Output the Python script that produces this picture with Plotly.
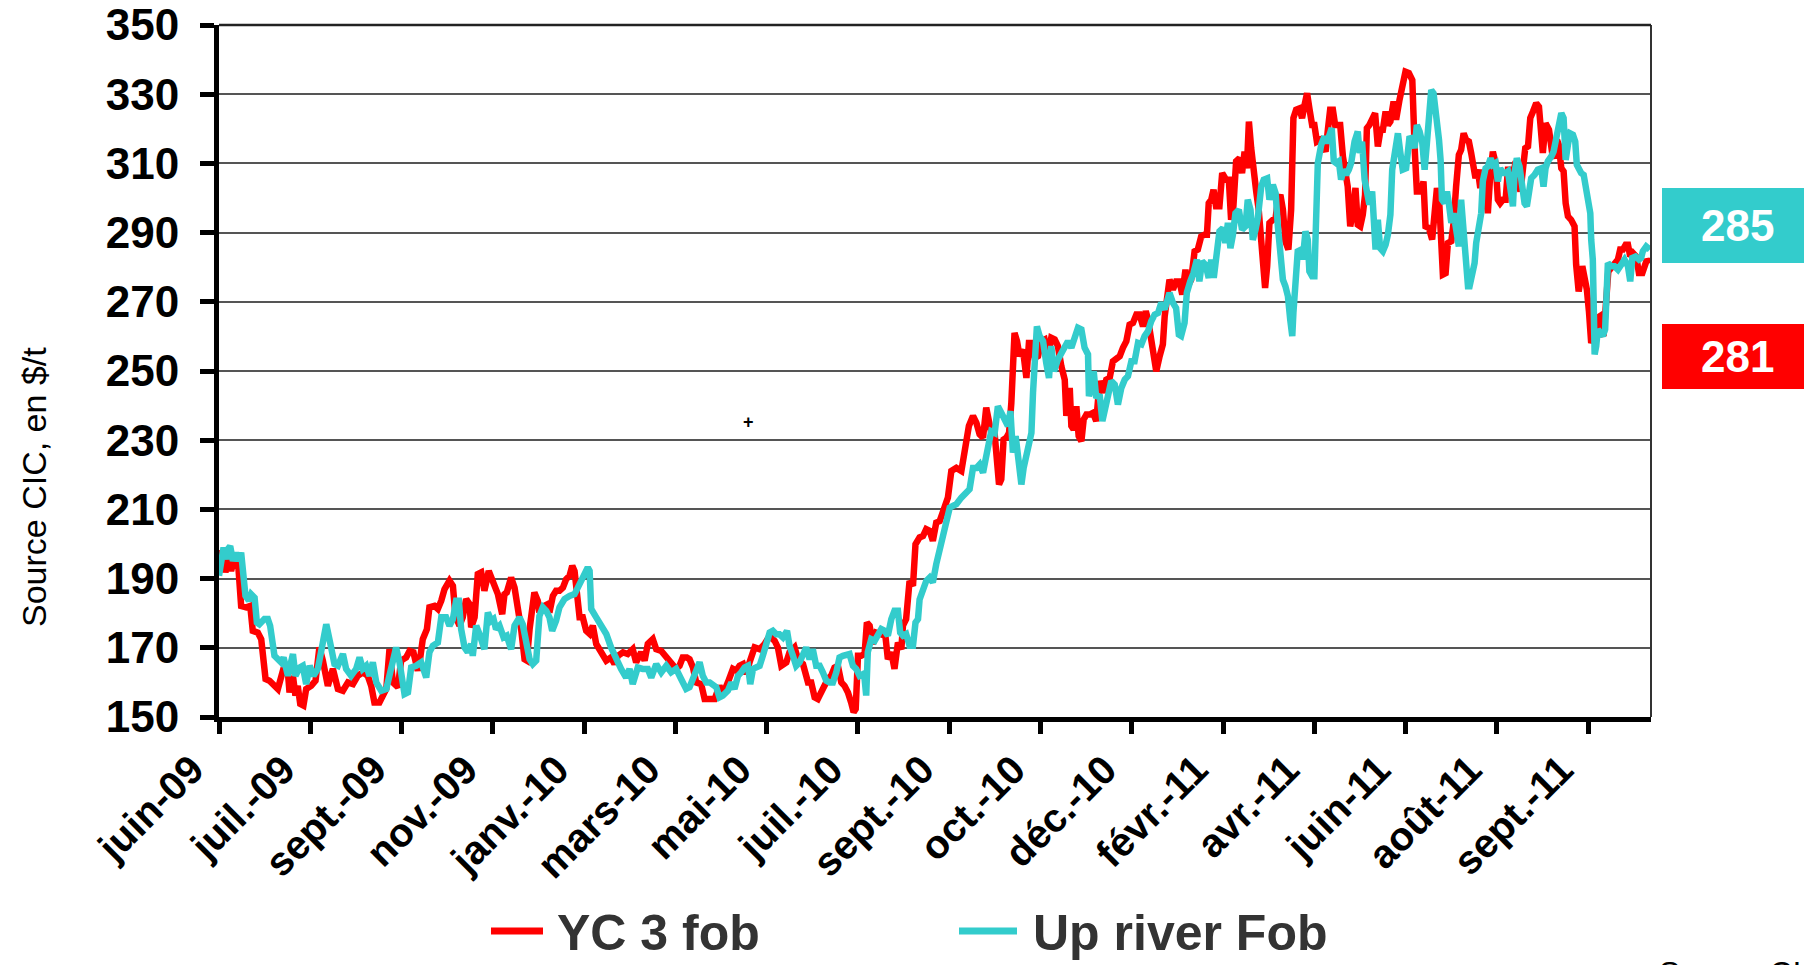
import plotly.graph_objects as go

# ---------------- data ----------------
tick_labels = ["juin-09", "juil.-09", "sept.-09", "nov.-09", "janv.-10", "mars-10",
               "mai-10", "juil.-10", "sept.-10", "oct.-10", "déc.-10", "févr.-11",
               "avr.-11", "juin-11", "août-11", "sept.-11"]
tick_step = 40          # observations between two labelled ticks
last_index = 627.5      # last observation position (category axis)

series_names = ["YC 3 fob", "Up river Fob"]
series_colors = ["#FF0000", "#33CCCC"]
last_values = [281, 285]

# YC 3 fob  (observation index, $/t)
yc_x = [0, 1.4, 2.8, 4.3, 5.3, 6.8, 8.3, 9.7, 11.9, 13.7, 14.8, 17.0, 18.5, 20.4, 22.1, 23.6, 25.8, 28.0, 30.2, 30.9,
        32.4, 33.5, 34.5, 35.6, 37.0, 38.2, 40.4, 42.3, 44.0, 45.5, 47.7, 49.9, 52.1, 54.3, 56.5, 58.7, 60.8, 63.0, 65.2, 66.7,
        68.1, 70.3, 71.8, 73.3, 74.7, 76.2, 78.4, 79.8, 82.0, 83.5, 85.2, 87.1, 87.9, 89.3, 91.1, 92.2, 94.4, 95.9, 97.4, 98.8,
        101.0, 102.5, 103.6, 105.4, 106.8, 108.3, 109.8, 110.5, 112.0, 113.4, 114.9, 116.3, 118.2, 120.0, 122.2, 124.1, 125.1, 126.1, 128.0, 129.5,
        130.9, 132.4, 133.9, 134.9, 136.1, 138.2, 139.7, 140.4, 142.6, 144.1, 144.8, 146.3, 147.7, 149.2, 150.7, 152.1, 153.6, 154.8, 155.8, 156.5,
        158.0, 159.4, 160.9, 162.4, 163.8, 165.3, 167.5, 169.7, 171.8, 173.3, 174.8, 177.0, 179.1, 181.3, 182.8, 185.0, 186.5, 187.9, 190.1, 191.6,
        193.8, 196.0, 198.1, 200.3, 201.8, 203.2, 205.0, 206.2, 207.7, 209.1, 211.3, 212.8, 215.0, 217.2, 219.3, 220.8, 223.0, 225.2, 226.7, 228.1,
        229.6, 231.0, 232.5, 234.7, 236.9, 239.1, 241.3, 243.5, 244.9, 246.4, 248.6, 250.0, 252.2, 253.7, 255.9, 258.1, 259.5, 261.0, 262.4, 263.9,
        265.4, 266.8, 268.3, 269.7, 271.2, 272.7, 274.1, 275.6, 277.0, 278.1, 279.0, 280.0, 281.4, 282.9, 283.9, 285.1, 286.5, 288.0, 290.2, 291.7,
        293.1, 294.6, 296.0, 297.5, 299.0, 299.7, 301.1, 302.6, 304.1, 305.2, 307.0, 308.5, 309.9, 311.4, 312.8, 314.3, 315.8, 318.0, 319.4, 320.9,
        323.1, 325.3, 327.5, 328.6, 330.4, 331.9, 333.3, 334.8, 336.2, 337.4, 338.4, 339.9, 340.6, 341.8, 342.8, 343.8, 345.0, 346.2, 347.2, 348.6,
        349.7, 350.8, 352.3, 353.8, 354.9, 356.0, 357.4, 358.9, 360.3, 361.8, 363.3, 364.7, 366.2, 367.6, 369.1, 370.6, 371.3, 372.8, 373.5, 374.5,
        375.7, 376.7, 377.9, 378.9, 380.1, 381.5, 383.0, 384.4, 385.9, 387.4, 388.8, 390.3, 391.7, 393.2, 394.7, 396.1, 397.6, 399.0, 400.5, 402.0,
        403.4, 404.9, 406.1, 407.1, 408.1, 409.3, 410.7, 412.2, 413.6, 414.4, 415.4, 416.5, 418.0, 419.4, 420.9, 422.1, 423.5, 424.5, 426.0, 427.5,
        428.9, 430.4, 431.8, 432.9, 433.7, 434.8, 435.8, 436.9, 438.4, 439.6, 441.3, 442.5, 443.5, 444.5, 445.7, 447.2, 448.3, 449.4, 450.4, 451.3,
        452.3, 453.3, 454.5, 455.6, 456.7, 457.4, 458.4, 459.3, 460.3, 461.8, 463.0, 464.0, 465.1, 466.2, 467.3, 468.6, 469.8, 470.8, 472.0, 473.5,
        474.6, 475.7, 476.8, 477.9, 479.0, 480.0, 481.1, 482.5, 483.7, 484.9, 485.9, 486.9, 488.1, 489.1, 490.3, 491.3, 492.5, 493.6, 494.6, 495.7,
        496.8, 498.0, 499.0, 500.1, 501.2, 502.2, 503.0, 504.1, 505.6, 506.6, 507.8, 509.0, 510.0, 511.2, 512.2, 513.3, 514.7, 515.8, 517.3, 518.7,
        519.9, 521.4, 522.9, 523.9, 524.9, 526.8, 527.8, 528.7, 530.2, 531.6, 532.7, 533.7, 534.8, 536.3, 537.5, 538.5, 540.0, 541.0, 542.1, 543.3,
        544.3, 545.4, 546.5, 547.7, 548.7, 549.7, 550.6, 551.6, 552.7, 553.8, 555.0, 556.0, 557.1, 558.2, 559.4, 560.4, 561.4, 562.6, 563.8, 564.8,
        565.8, 567.0, 568.2, 569.2, 570.3, 571.4, 572.4, 573.6, 574.6, 575.8, 577.2, 578.4, 579.4, 580.1, 581.3, 582.8, 584.2, 585.2, 586.3, 587.1,
        588.2, 589.2, 590.1, 591.1, 592.5, 594.0, 594.7, 595.8, 596.6, 597.4, 598.4, 599.4, 600.3, 601.3, 602.0, 602.9, 603.8, 605.0, 605.8, 606.7,
        607.9, 609.0, 610.1, 611.5, 613.0, 614.0, 615.2, 616.4, 617.4, 618.4, 619.6, 621.0, 622.2, 623.7, 624.7, 625.7, 627.0]
yc_y = [194.6, 198.0, 191.8, 196.1, 192.2, 196.1, 195.1, 182.1, 181.7, 182.1, 174.9, 174.4, 172.5, 161.0, 160.5, 159.5, 158.1, 163.4, 162.9, 157.1,
        161.9, 156.2, 159.0, 153.8, 153.3, 158.1, 159.0, 160.5, 170.1, 166.3, 159.0, 163.9, 158.1, 157.6, 160.0, 159.5, 161.9, 162.9, 161.9, 159.0,
        154.2, 154.2, 156.2, 158.1, 169.6, 160.0, 158.6, 166.3, 167.2, 169.1, 168.7, 163.4, 165.8, 172.5, 175.4, 181.7, 182.1, 181.2, 183.6, 186.9,
        189.4, 187.9, 179.2, 176.4, 178.8, 184.1, 182.6, 175.9, 178.8, 191.3, 191.8, 186.5, 192.2, 189.4, 185.5, 179.7, 185.5, 186.0, 190.3, 187.4,
        182.6, 175.4, 166.7, 166.3, 175.4, 186.0, 183.6, 180.2, 182.1, 182.6, 180.2, 185.0, 186.5, 186.5, 187.4, 189.8, 190.8, 193.7, 192.2, 186.9,
        178.8, 178.8, 174.9, 174.0, 176.4, 171.1, 168.7, 166.3, 167.2, 165.3, 167.7, 168.7, 168.2, 169.6, 165.8, 168.7, 166.3, 171.1, 172.5, 169.6,
        169.1, 167.2, 165.3, 163.9, 164.8, 167.2, 167.2, 166.7, 164.3, 160.0, 159.5, 155.2, 155.2, 155.2, 159.0, 156.6, 160.0, 163.9, 163.4, 164.8,
        165.3, 162.4, 165.8, 170.1, 169.6, 171.1, 173.5, 172.0, 170.1, 164.8, 165.8, 168.7, 170.1, 166.7, 165.3, 160.0, 160.0, 155.7, 155.2, 157.1,
        160.0, 161.0, 162.0, 164.3, 164.8, 160.0, 159.0, 157.1, 154.2, 151.4, 152.3, 167.7, 167.7, 168.2, 177.3, 176.4, 171.1, 174.4, 173.9, 175.4,
        166.7, 168.7, 163.9, 171.5, 169.6, 176.4, 178.3, 189.3, 187.9, 199.9, 201.9, 202.3, 204.3, 203.8, 200.9, 206.2, 206.6, 210.5, 213.4, 221.1,
        222.0, 221.1, 229.3, 234.1, 237.0, 235.0, 231.7, 230.7, 239.4, 234.1, 232.1, 231.7, 225.4, 217.2, 218.7, 230.2, 230.7, 232.1, 240.8, 261.0,
        258.6, 254.3, 256.2, 248.0, 258.1, 258.1, 253.8, 254.3, 258.6, 259.1, 254.3, 259.6, 259.1, 257.2, 251.4, 247.5, 237.0, 245.1, 234.1, 233.1,
        239.8, 231.2, 229.7, 236.0, 237.4, 237.4, 237.9, 235.5, 247.1, 243.7, 247.5, 248.0, 252.8, 253.3, 254.3, 256.7, 258.6, 263.4, 263.9, 266.3,
        266.3, 262.9, 267.3, 264.9, 260.1, 254.3, 249.9, 254.3, 257.7, 265.8, 273.0, 276.4, 273.5, 275.9, 275.9, 272.1, 279.3, 274.5, 276.4, 284.6,
        285.1, 288.9, 289.4, 289.4, 298.5, 299.5, 302.4, 297.6, 297.6, 307.2, 305.3, 305.3, 293.7, 297.6, 310.6, 311.5, 307.2, 313.4, 308.6, 322.1,
        314.4, 307.2, 301.9, 296.6, 286.0, 276.9, 274.0, 280.3, 292.8, 293.7, 294.2, 299.5, 300.9, 296.6, 287.5, 285.1, 296.6, 323.1, 325.5, 325.9,
        323.1, 326.9, 330.3, 325.5, 321.1, 321.1, 316.3, 316.8, 314.4, 313.4, 319.7, 325.5, 325.5, 321.1, 321.1, 321.1, 312.0, 307.2, 303.3, 291.8,
        295.6, 302.9, 292.3, 291.8, 295.2, 300.9, 320.2, 321.1, 323.5, 324.5, 314.9, 319.7, 319.7, 325.0, 321.1, 322.1, 327.9, 322.6, 328.4, 334.1,
        336.5, 336.1, 334.1, 314.9, 301.9, 301.9, 304.8, 291.8, 291.3, 288.0, 295.6, 302.9, 297.6, 277.9, 278.3, 287.0, 287.5, 292.8, 303.3, 312.5,
        313.9, 318.7, 316.8, 316.3, 313.0, 310.1, 305.7, 308.2, 302.9, 308.2, 299.5, 295.6, 307.2, 313.4, 310.1, 299.5, 298.5, 299.5, 299.5, 308.2,
        308.2, 306.2, 310.6, 304.3, 301.9, 308.6, 314.4, 314.9, 323.1, 325.0, 327.4, 326.4, 319.2, 313.0, 321.6, 319.7, 313.0, 311.5, 316.8, 315.4,
        308.6, 307.7, 298.5, 294.7, 293.7, 291.8, 280.7, 273.0, 276.4, 280.3, 276.9, 273.5, 267.3, 258.1, 259.1, 259.1, 265.3, 265.8, 261.0, 260.1,
        270.6, 280.7, 279.8, 281.2, 282.2, 285.1, 285.1, 286.5, 286.5, 283.1, 284.1, 283.1, 278.3, 278.3, 280.3, 282.2, 281.2]

# Up river Fob  (observation index, $/t)
up_x = [0, 0.95, 2.0, 3.1, 3.9, 4.9, 6.1, 7.5, 8.7, 9.7, 10.4, 11.6, 13.1, 14.1, 15.6, 16.6, 17.7, 19.9, 21.4, 22.4,
        24.3, 25.8, 27.2, 28.3, 30.2, 32.4, 33.5, 35.3, 36.7, 38.2, 39.7, 41.4, 43.3, 45.5, 47.0, 48.7, 50.6, 52.1, 54.3, 55.7,
        57.9, 60.1, 61.6, 63.0, 64.5, 66.0, 67.4, 68.9, 71.1, 73.3, 75.4, 77.6, 79.1, 81.3, 82.8, 84.2, 86.4, 88.6, 90.8, 92.2,
        93.7, 95.9, 97.4, 99.5, 101.0, 102.5, 103.9, 105.1, 106.1, 107.6, 109.0, 110.5, 111.2, 112.7, 114.4, 116.3, 117.8, 119.3, 120.3, 121.4,
        122.9, 124.7, 126.1, 128.0, 129.5, 131.7, 133.1, 134.6, 136.1, 137.5, 139.0, 140.4, 141.9, 143.4, 144.8, 146.0, 147.7, 149.2, 151.4, 153.6,
        155.8, 158.0, 160.2, 161.6, 162.4, 163.1, 165.3, 167.5, 169.7, 171.8, 174.0, 176.2, 178.4, 179.9, 181.3, 183.5, 185.7, 187.9, 189.4, 191.6,
        193.8, 196.0, 198.1, 200.3, 202.5, 204.7, 206.2, 207.7, 209.1, 210.6, 212.0, 213.5, 215.0, 216.4, 217.9, 219.3, 220.8, 223.0, 224.5, 225.9,
        227.4, 228.8, 230.3, 231.8, 232.8, 234.0, 235.4, 236.9, 238.3, 240.1, 241.3, 242.7, 244.2, 245.6, 247.1, 248.9, 250.0, 251.5, 252.9, 254.4,
        255.9, 257.3, 258.8, 260.2, 261.7, 263.2, 264.6, 266.1, 267.6, 269.0, 270.5, 271.9, 273.4, 274.9, 276.3, 277.8, 279.2, 280.7, 282.2, 282.9,
        283.6, 284.3, 285.8, 287.3, 288.7, 290.2, 291.7, 293.1, 294.6, 296.0, 297.5, 298.5, 299.7, 301.1, 302.6, 304.1, 305.2, 306.3, 307.0, 308.5,
        309.9, 311.4, 312.8, 314.3, 315.8, 320.2, 321.6, 323.1, 325.3, 327.5, 328.9, 330.4, 331.9, 333.3, 334.8, 335.9, 337.4, 338.4, 339.9, 341.3,
        342.8, 344.3, 345.7, 346.8, 347.9, 349.1, 350.1, 351.6, 352.6, 353.8, 354.9, 356.0, 356.7, 357.4, 358.4, 359.6, 361.1, 362.5, 363.7, 364.7,
        365.9, 367.6, 369.1, 370.6, 372.0, 373.5, 374.9, 376.4, 377.9, 379.3, 380.8, 381.2, 382.2, 383.3, 384.4, 385.9, 387.1, 388.1, 389.5, 391.0,
        392.5, 393.9, 395.4, 396.9, 398.3, 399.8, 401.2, 402.7, 404.2, 405.6, 407.1, 408.5, 410.0, 411.5, 412.9, 414.4, 415.8, 416.5, 418.0, 419.4,
        420.6, 421.6, 423.1, 424.1, 425.6, 427.0, 428.5, 429.6, 430.8, 432.3, 433.7, 434.8, 435.9, 437.2, 438.4, 439.9, 441.0, 442.1, 443.2, 444.3,
        445.4, 446.9, 448.3, 449.8, 450.8, 452.0, 453.0, 454.2, 455.2, 456.7, 457.8, 459.3, 460.3, 461.8, 463.0, 464.0, 465.1, 466.2, 467.3, 468.4,
        469.4, 470.3, 470.8, 471.7, 472.7, 474.2, 474.9, 476.1, 477.1, 477.8, 479.0, 480.0, 480.8, 481.5, 483.0, 484.4, 485.4, 486.6, 487.6, 488.5,
        489.5, 490.7, 491.7, 492.7, 493.9, 495.1, 496.1, 497.6, 499.0, 499.8, 500.9, 502.0, 503.0, 504.1, 505.3, 505.9, 506.8, 507.8, 508.8, 510.0,
        511.2, 512.2, 513.3, 514.1, 515.1, 516.6, 517.6, 518.7, 520.2, 521.7, 522.9, 523.9, 524.9, 526.1, 527.3, 528.3, 529.3, 530.2, 531.2, 532.2,
        533.4, 534.6, 535.3, 535.9, 537.0, 538.1, 538.9, 540.0, 541.0, 542.1, 543.3, 544.3, 545.4, 546.2, 547.3, 548.0, 549.2, 550.2, 550.9, 552.1,
        553.1, 553.8, 555.0, 556.0, 557.2, 558.2, 559.4, 560.4, 561.4, 562.6, 563.8, 564.8, 565.8, 567.0, 567.7, 568.7, 569.9, 571.1, 572.1, 573.1,
        574.3, 575.0, 576.5, 577.9, 579.4, 580.4, 581.3, 582.3, 583.8, 584.8, 586.0, 587.2, 588.2, 589.2, 590.1, 591.1, 592.1, 593.3, 594.3, 595.0,
        595.9, 596.9, 598.0, 599.1, 600.3, 600.9, 601.3, 602.0, 602.3, 602.8, 603.5, 604.2, 605.3, 606.4, 607.4, 608.2, 608.6, 610.1, 611.5, 613.0,
        614.5, 615.9, 617.4, 618.4, 619.3, 620.7, 622.2, 623.2, 623.9, 625.4, 627.0]
up_y = [190.8, 193.7, 199.0, 195.6, 198.5, 199.4, 195.1, 197.5, 195.1, 197.5, 193.7, 185.0, 183.6, 185.5, 184.5, 177.3, 176.8, 178.3, 178.3, 176.4,
        167.7, 166.3, 165.8, 167.2, 161.9, 168.2, 161.9, 164.3, 164.8, 159.5, 164.8, 161.9, 163.9, 171.5, 176.8, 171.5, 165.3, 164.8, 168.2, 163.9,
        161.9, 163.9, 167.2, 163.9, 164.8, 161.9, 165.8, 160.0, 157.6, 158.1, 163.9, 170.1, 165.8, 156.6, 157.1, 164.3, 164.8, 165.8, 161.4, 168.7,
        170.6, 171.5, 178.8, 178.8, 176.4, 178.3, 183.6, 183.6, 175.4, 170.1, 168.7, 171.1, 167.7, 176.4, 173.5, 169.6, 180.2, 177.8, 178.3, 175.4,
        176.4, 173.0, 173.5, 169.6, 176.4, 178.8, 176.8, 171.5, 166.7, 165.3, 166.3, 179.2, 181.7, 180.7, 178.8, 174.9, 177.8, 181.7, 184.1, 185.0,
        185.5, 188.4, 190.8, 193.2, 192.2, 181.2, 178.8, 175.9, 174.0, 170.1, 166.7, 163.9, 161.4, 163.9, 159.5, 164.3, 163.9, 163.9, 161.4, 165.3,
        162.9, 164.8, 162.9, 163.9, 161.0, 158.1, 158.6, 161.0, 163.9, 165.8, 161.9, 160.0, 160.0, 159.0, 158.6, 155.7, 156.2, 157.6, 160.0, 158.1,
        161.9, 162.9, 164.3, 164.8, 159.5, 163.9, 164.3, 164.8, 167.7, 172.5, 174.4, 174.9, 173.9, 173.9, 173.0, 174.9, 170.6, 167.7, 164.8, 165.8,
        168.7, 170.1, 166.7, 169.6, 164.8, 164.8, 162.9, 160.5, 160.0, 160.0, 162.9, 167.2, 167.7, 168.2, 168.2, 164.8, 163.9, 161.9, 162.4, 161.0,
        156.2, 168.7, 172.5, 172.0, 173.5, 175.4, 174.9, 173.5, 178.3, 180.7, 180.7, 174.4, 173.5, 174.0, 170.6, 170.6, 177.3, 178.3, 184.0, 186.5,
        189.3, 190.3, 188.9, 194.2, 198.5, 210.5, 211.0, 211.5, 213.4, 214.8, 215.8, 222.0, 222.0, 223.0, 220.6, 224.4, 228.8, 232.6, 232.1, 239.8,
        237.9, 235.9, 234.1, 238.4, 226.4, 231.2, 224.4, 217.2, 222.0, 225.4, 228.8, 232.1, 243.7, 254.3, 262.9, 260.1, 258.6, 252.3, 248.0, 257.2,
        249.9, 253.3, 255.2, 257.7, 258.6, 256.7, 260.1, 262.5, 262.0, 256.7, 254.8, 242.7, 245.1, 249.9, 242.2, 243.2, 235.5, 237.9, 242.7, 247.1,
        246.1, 240.3, 245.1, 247.5, 248.5, 252.8, 252.8, 258.1, 257.7, 260.1, 261.5, 264.4, 266.3, 266.8, 269.7, 267.8, 271.1, 272.6, 269.7, 268.2,
        260.5, 260.1, 263.9, 272.6, 275.9, 278.3, 282.2, 275.9, 281.7, 280.7, 276.9, 282.2, 276.9, 282.7, 290.4, 291.3, 287.0, 292.8, 285.5, 289.4,
        295.6, 296.6, 290.8, 291.8, 299.5, 296.6, 287.9, 290.8, 294.2, 303.3, 305.3, 305.7, 299.5, 303.8, 301.4, 291.8, 285.1, 276.4, 274.5, 271.6,
        264.9, 260.1, 266.8, 279.3, 284.6, 285.1, 282.2, 290.4, 287.9, 278.8, 277.4, 277.4, 299.5, 310.1, 315.4, 317.8, 315.8, 319.2, 320.2, 310.6,
        310.1, 310.6, 305.3, 308.2, 306.7, 308.2, 310.1, 316.3, 319.2, 313.0, 316.3, 305.3, 301.9, 298.1, 301.9, 294.7, 285.1, 293.7, 285.5, 284.6,
        286.5, 289.4, 295.2, 308.2, 313.9, 318.7, 313.4, 308.2, 308.6, 317.8, 316.8, 314.4, 321.1, 319.2, 315.8, 308.2, 315.8, 323.5, 331.2, 330.3,
        324.5, 316.8, 311.0, 299.5, 298.5, 301.9, 298.5, 292.8, 295.6, 291.8, 286.0, 299.5, 291.8, 281.2, 274.5, 274.5, 279.3, 281.2, 287.0, 292.8,
        295.6, 304.8, 308.6, 309.1, 311.5, 309.6, 310.1, 304.8, 308.6, 307.2, 307.2, 307.7, 301.9, 297.6, 307.2, 311.5, 309.1, 303.3, 298.5, 297.6,
        301.9, 305.7, 306.7, 308.2, 308.6, 303.3, 308.6, 310.6, 312.0, 313.4, 317.3, 322.1, 324.5, 323.1, 311.0, 315.4, 318.7, 318.3, 316.3, 309.6,
        308.2, 307.2, 306.7, 302.4, 299.0, 295.6, 287.9, 282.2, 272.6, 254.8, 257.2, 262.0, 261.0, 260.1, 262.0, 272.6, 281.2, 280.3, 280.3, 279.3,
        281.2, 282.2, 280.3, 275.9, 282.7, 283.1, 282.2, 282.7, 284.6, 286.0, 285.1]

# ---------------- layout geometry ----------------
# Target positions are given in page pixels; the page body has an 8 px margin,
# so figure pixels = page pixels - OFF.
OFF = 8
W, H = 1812 - OFF, 965 - OFF
L, R, T, B = 219 - OFF, 1651 - OFF, 25 - OFF, 717 - OFF
PW, PH = R - L, B - T


def px(xpage):
    return (xpage - OFF - L) / PW


def py(ypage):
    return (B - (ypage - OFF)) / PH


FONT = "Liberation Sans, Arial, Helvetica, sans-serif"

fig = go.Figure()
for xs, ys, name, col in [(yc_x, yc_y, series_names[0], series_colors[0]),
                          (up_x, up_y, series_names[1], series_colors[1])]:
    fig.add_trace(go.Scatter(x=xs, y=ys, mode="lines", name=name,
                             line=dict(color=col, width=6.5), showlegend=False))

tickvals = [i * tick_step for i in range(len(tick_labels))]

fig.update_layout(
    width=W, height=H,
    margin=dict(l=L, r=W - R, t=T, b=H - B, pad=0, autoexpand=False),
    paper_bgcolor="white", plot_bgcolor="white",
    font=dict(family=FONT, color="black"),
    xaxis=dict(range=[0, last_index], tickmode="array", tickvals=tickvals, ticktext=tick_labels,
               tickangle=-45, tickfont=dict(size=40, weight="bold", color="black"),
               showline=True, linecolor="black", linewidth=5, automargin=False,
               ticks="outside", ticklen=12, tickwidth=5, tickcolor="black",
               ticklabelstandoff=-4, ticklabelshift=-27, ticklabeloverflow="allow",
               showgrid=False, zeroline=False),
    yaxis=dict(range=[150, 350], tick0=150, dtick=20, automargin=False,
               tickfont=dict(size=44, weight="bold", color="black"),
               showline=True, linecolor="black", linewidth=5,
               ticks="outside", ticklen=14, tickwidth=5, tickcolor="black",
               ticklabelstandoff=12, ticklabeloverflow="allow",
               showgrid=True, gridcolor="#555555", gridwidth=1.6, zeroline=False),
)

shapes = [
    # right and top frame
    dict(type="line", xref="paper", yref="paper", x0=1, x1=1, y0=0, y1=1,
         line=dict(color="#333333", width=2)),
    dict(type="line", xref="paper", yref="paper", x0=0, x1=1, y0=1, y1=1,
         line=dict(color="#222222", width=2.5)),
]
annotations = []

# legend (manual, below the chart)
legend_items = [(491, 543, 555), (959, 1017, 1031)]
legend_y = 931
for (x0, x1, xt), name, col in zip(legend_items, series_names, series_colors):
    shapes.append(dict(type="line", xref="paper", yref="paper", x0=px(x0), x1=px(x1),
                       y0=py(legend_y), y1=py(legend_y), line=dict(color=col, width=7)))
    annotations.append(dict(xref="paper", yref="paper", x=px(xt), y=py(legend_y + 2),
                            xanchor="left", yanchor="middle", showarrow=False, text=name,
                            font=dict(family=FONT, size=50, weight="bold", color="#333333")))

# last-value boxes on the right
boxes = [(188, 263, series_colors[1], last_values[1]), (324, 389, series_colors[0], last_values[0])]
for y0, y1, col, val in boxes:
    shapes.append(dict(type="rect", xref="paper", yref="paper", x0=px(1662), x1=px(1815),
                       y0=py(y1), y1=py(y0), fillcolor=col, line=dict(width=0)))
    annotations.append(dict(xref="paper", yref="paper", x=px(1737), y=py((y0 + y1) / 2),
                            xanchor="center", yanchor="middle", showarrow=False, text=str(val),
                            font=dict(family=FONT, size=44, weight="bold", color="white")))

# y-axis title
annotations.append(dict(xref="paper", yref="paper", x=px(34), y=py(487), textangle=-90,
                        xanchor="center", yanchor="middle", showarrow=False,
                        text="Source CIC, en $/t", font=dict(family=FONT, size=34, color="black")))

# small cross artefact in the plot
annotations.append(dict(xref="paper", yref="paper", x=px(748), y=py(422), xanchor="center",
                        yanchor="middle", showarrow=False, text="+",
                        font=dict(family=FONT, size=18, weight="bold", color="black")))

# source note, cut by the bottom edge (as in the original)
annotations.append(dict(xref="paper", yref="paper", x=px(1657), y=py(953), xanchor="left",
                        yanchor="top", showarrow=False, text="Source CIC",
                        font=dict(family=FONT, size=32, color="black")))

fig.update_layout(shapes=shapes, annotations=annotations)
fig.write_html("out.html")
